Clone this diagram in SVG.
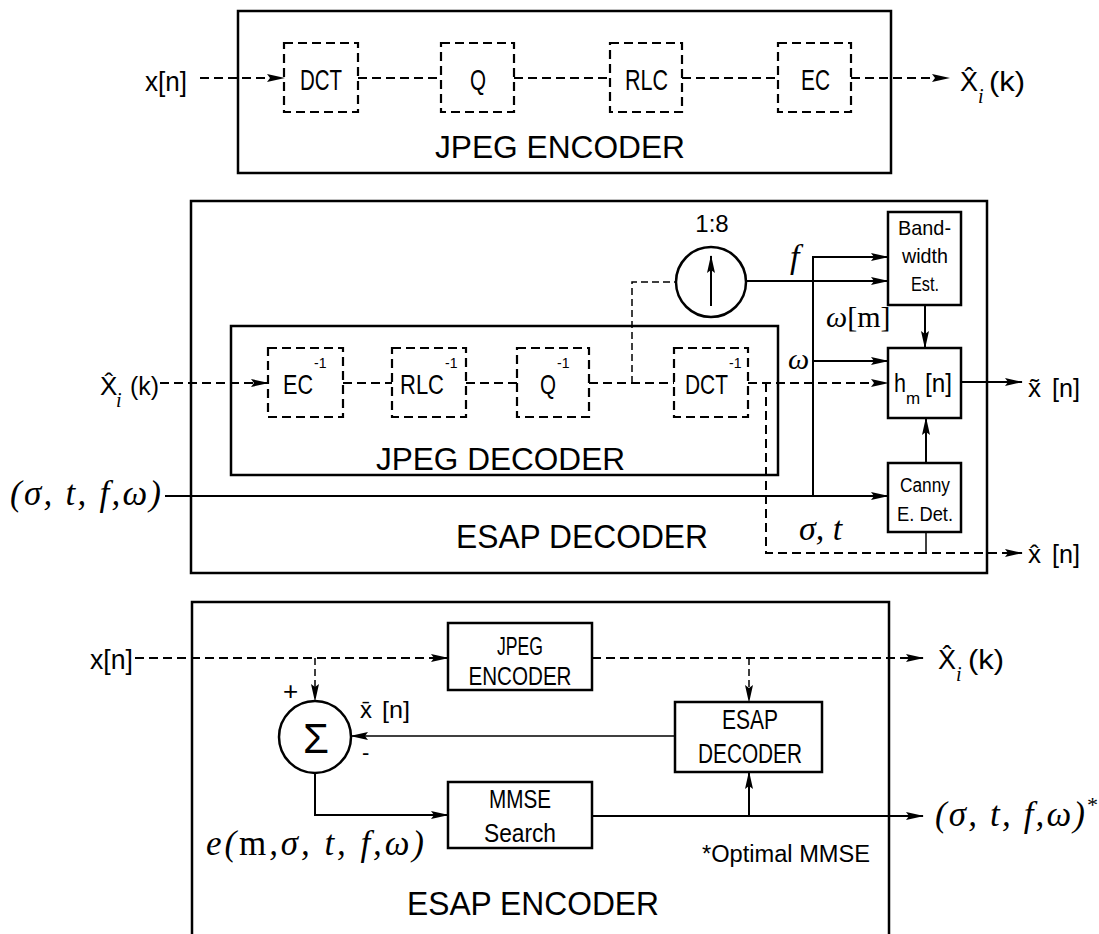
<svg xmlns="http://www.w3.org/2000/svg" width="1099" height="934" viewBox="0 0 1099 934">
<style>
.box{fill:none;stroke:#000;stroke-width:2.5}
.dbox{fill:none;stroke:#000;stroke-width:2.2;stroke-dasharray:9 5}
.ln{fill:none;stroke:#000;stroke-width:2}
.thin{fill:none;stroke:#000;stroke-width:1.5}
.dl{fill:none;stroke:#000;stroke-width:2;stroke-dasharray:9 5}
.dlt{fill:none;stroke:#000;stroke-width:1.5;stroke-dasharray:7 4}
.a{marker-end:url(#ah)}
.t{font-family:"Liberation Sans",Arial,sans-serif;fill:#000}
.s{font-family:"Liberation Serif","Times New Roman",serif;font-style:italic;fill:#000}
.m{text-anchor:middle}
</style>
<defs>
<marker id="ah" markerWidth="18" markerHeight="10" refX="17" refY="5" orient="auto" markerUnits="userSpaceOnUse">
<path d="M0,1 L18,5 L0,9 L3,5 Z" fill="#000"/>
</marker>
</defs>
<rect width="1099" height="934" fill="#fff"/>

<g id="jpeg-encoder">
<rect class="box" x="238" y="11" width="653" height="162"/>
<text class="t" x="435" y="158" font-size="31" textLength="250" lengthAdjust="spacingAndGlyphs">JPEG ENCODER</text>
</g>
<g id="dct"><rect class="dbox" x="284" y="43" width="74" height="69"/><text class="t" x="300" y="90" font-size="30" textLength="42" lengthAdjust="spacingAndGlyphs">DCT</text></g>
<g id="q"><rect class="dbox" x="441" y="43" width="73" height="69"/><text class="t" x="470" y="90" font-size="30" textLength="16" lengthAdjust="spacingAndGlyphs">Q</text></g>
<g id="rlc"><rect class="dbox" x="610" y="43" width="72" height="69"/><text class="t" x="625" y="90" font-size="30" textLength="43" lengthAdjust="spacingAndGlyphs">RLC</text></g>
<g id="ec"><rect class="dbox" x="778" y="43" width="73" height="69"/><text class="t" x="801" y="90" font-size="30" textLength="29" lengthAdjust="spacingAndGlyphs">EC</text></g>
<g id="top-labels">
<text class="t" x="145" y="91" font-size="27" textLength="42" lengthAdjust="spacingAndGlyphs">x[n]</text>
<text class="t" x="960" y="91" font-size="27">X&#x302;</text>
<text class="s" x="978" y="103" font-size="20">i</text>
<text class="t" x="989" y="91" font-size="27" textLength="36" lengthAdjust="spacingAndGlyphs">(k)</text>
</g>

<g id="esap-decoder">
<rect class="box" x="191" y="201" width="796" height="372"/>
<text class="t" x="456" y="548" font-size="33" textLength="252" lengthAdjust="spacingAndGlyphs">ESAP DECODER</text>
</g>
<g id="jpeg-decoder">
<rect class="box" x="231" y="326" width="547" height="149"/>
<text class="t" x="376" y="470" font-size="31" textLength="249" lengthAdjust="spacingAndGlyphs">JPEG DECODER</text>
</g>
<g id="ec-inv"><rect class="dbox" x="268" y="348" width="75" height="69"/><text class="t" x="283" y="394" font-size="28" textLength="30" lengthAdjust="spacingAndGlyphs">EC</text><text class="t" x="314" y="368" font-size="14">-1</text></g>
<g id="rlc-inv"><rect class="dbox" x="392" y="348" width="74" height="69"/><text class="t" x="445" y="368" font-size="14">-1</text><text class="t" x="400" y="394" font-size="28" textLength="44" lengthAdjust="spacingAndGlyphs">RLC</text></g>
<g id="q-inv"><rect class="dbox" x="517" y="348" width="72" height="69"/><text class="t" x="540" y="394" font-size="28" textLength="16" lengthAdjust="spacingAndGlyphs">Q</text><text class="t" x="557" y="368" font-size="14">-1</text></g>
<g id="dct-inv"><rect class="dbox" x="674" y="348" width="74" height="69"/><text class="t" x="685" y="394" font-size="28" textLength="43" lengthAdjust="spacingAndGlyphs">DCT</text><text class="t" x="729" y="368" font-size="14">-1</text></g>
<g id="upsampler">
<circle class="box" cx="711" cy="282" r="35"/>
<line class="ln a" x1="711" y1="306" x2="711" y2="256"/>
<text class="t m" x="712" y="232" font-size="24">1:8</text>
</g>
<g id="bandwidth-est">
<rect class="box" x="888" y="212" width="73" height="93"/>
<text class="t" x="898" y="235" font-size="21" textLength="53" lengthAdjust="spacingAndGlyphs">Band-</text>
<text class="t" x="902" y="263" font-size="21" textLength="46" lengthAdjust="spacingAndGlyphs">width</text>
<text class="t" x="911" y="291" font-size="21" textLength="28" lengthAdjust="spacingAndGlyphs">Est.</text>
</g>
<g id="hm-filter">
<rect class="box" x="888" y="348" width="73" height="70"/>
<text class="t" x="894" y="392" font-size="26" textLength="12" lengthAdjust="spacingAndGlyphs">h</text>
<text class="t" x="906" y="404" font-size="17">m</text>
<text class="t" x="925" y="392" font-size="26" textLength="27" lengthAdjust="spacingAndGlyphs">[n]</text>
</g>
<g id="canny">
<rect class="box" x="888" y="463" width="73" height="69"/>
<text class="t" x="900" y="492" font-size="20" textLength="50" lengthAdjust="spacingAndGlyphs">Canny</text>
<text class="t" x="897" y="521" font-size="20" textLength="56" lengthAdjust="spacingAndGlyphs">E. Det.</text>
</g>
<g id="mid-labels">
<text class="t" x="100" y="395" font-size="26">X&#x302;</text>
<text class="s" x="116" y="407" font-size="20">i</text>
<text class="t" x="130" y="395" font-size="26" textLength="29" lengthAdjust="spacingAndGlyphs">(k)</text>
<text class="s" x="10" y="505" font-size="35" textLength="151" lengthAdjust="spacing">(σ, t, f,ω)</text>
<text class="s" x="790" y="268" font-size="34">f</text>
<text class="s" x="788" y="369" font-size="30">ω</text>
<text class="s" x="826" y="327" font-size="30">ω<tspan font-style="normal">[m]</tspan></text>
<text class="s" x="799" y="540" font-size="34">σ, t</text>
<text class="t" x="1028" y="397" font-size="26">x&#x303;</text>
<text class="t" x="1052" y="397" font-size="26" textLength="28" lengthAdjust="spacingAndGlyphs">[n]</text>
<text class="t" x="1028" y="563" font-size="26">x&#x302;</text>
<text class="t" x="1052" y="563" font-size="26" textLength="28" lengthAdjust="spacingAndGlyphs">[n]</text>
</g>

<g id="esap-encoder">
<path class="box" d="M192,940 V602 H889 V940"/>
<text class="t" x="407" y="915" font-size="33" textLength="252" lengthAdjust="spacingAndGlyphs">ESAP ENCODER</text>
<text class="t" x="702" y="862" font-size="23" textLength="168" lengthAdjust="spacingAndGlyphs">*Optimal MMSE</text>
</g>
<g id="jpeg-enc-block">
<rect class="box" x="448" y="623" width="144" height="67"/>
<text class="t m" x="520" y="655" font-size="25" textLength="46" lengthAdjust="spacingAndGlyphs">JPEG</text>
<text class="t m" x="520" y="685" font-size="25" textLength="103" lengthAdjust="spacingAndGlyphs">ENCODER</text>
</g>
<g id="esap-dec-block">
<rect class="box" x="675" y="702" width="147" height="70"/>
<text class="t m" x="750" y="729" font-size="27" textLength="56" lengthAdjust="spacingAndGlyphs">ESAP</text>
<text class="t m" x="750" y="763" font-size="27" textLength="104" lengthAdjust="spacingAndGlyphs">DECODER</text>
</g>
<g id="summer">
<circle class="box" cx="315" cy="737" r="36"/>
<text class="t m" x="316" y="753" font-size="42">Σ</text>
<text class="t" x="283" y="700" font-size="26">+</text>
<text class="t" x="362" y="760" font-size="22">-</text>
</g>
<g id="mmse-search">
<rect class="box" x="448" y="782" width="144" height="66"/>
<text class="t m" x="520" y="808" font-size="25" textLength="62" lengthAdjust="spacingAndGlyphs">MMSE</text>
<text class="t m" x="520" y="842" font-size="25" textLength="72" lengthAdjust="spacingAndGlyphs">Search</text>
</g>
<g id="bottom-labels">
<text class="t" x="90" y="669" font-size="27" textLength="43" lengthAdjust="spacingAndGlyphs">x[n]</text>
<text class="t" x="938" y="669" font-size="27">X&#x302;</text>
<text class="s" x="956" y="681" font-size="20">i</text>
<text class="t" x="968" y="669" font-size="27" textLength="36" lengthAdjust="spacingAndGlyphs">(k)</text>
<text class="t" x="360" y="718" font-size="24">x&#x304;</text>
<text class="t" x="382" y="718" font-size="24" textLength="28" lengthAdjust="spacingAndGlyphs">[n]</text>
<text class="s" x="206" y="855" font-size="35" textLength="218" lengthAdjust="spacing">e(<tspan font-style="normal">m</tspan>,σ, t, f,ω)</text>
<text class="s" x="935" y="826" font-size="35" textLength="150" lengthAdjust="spacing">(σ, t, f,ω)</text>
<text class="s" x="1086" y="812" font-size="22">*</text>
</g>

<g id="connectors">
<path class="dl a" d="M200,78 H284"/>
<path class="dl" d="M358,78 H441"/>
<path class="dl" d="M514,78 H610"/>
<path class="dl" d="M682,78 H778"/>
<path class="dl a" d="M851,78 H949"/>

<path class="dl a" d="M160,383 H268"/>
<path class="dl" d="M343,383 H392"/>
<path class="dl" d="M466,383 H517"/>
<path class="dl" d="M589,383 H674"/>
<path class="dl a" d="M748,383 H888"/>
<path class="dlt" d="M632,383 V282 H676"/>
<path class="ln a" d="M746,281 H888"/>
<path class="ln a" d="M813,496 V257 H888"/>
<path class="ln a" d="M813,361 H888"/>
<path class="ln a" d="M165,496 H888"/>
<path class="ln a" d="M925,305 V348"/>
<path class="ln a" d="M961,382 H1022"/>
<path class="ln a" d="M926,463 V418"/>
<path class="thin" d="M926,532 V553"/>
<path class="dl a" d="M766,383 V553 H1022"/>

<path class="dl a" d="M135,658 H448"/>
<path class="dlt a" d="M315,658 V701"/>
<path class="dl a" d="M592,658 H923"/>
<path class="dlt a" d="M749,658 V702"/>
<path class="thin a" d="M675,736 H351"/>
<path class="ln a" d="M315,773 V815 H448"/>
<path class="ln a" d="M592,816 H923"/>
<path class="ln a" d="M749,816 V772"/>
</g>
</svg>
